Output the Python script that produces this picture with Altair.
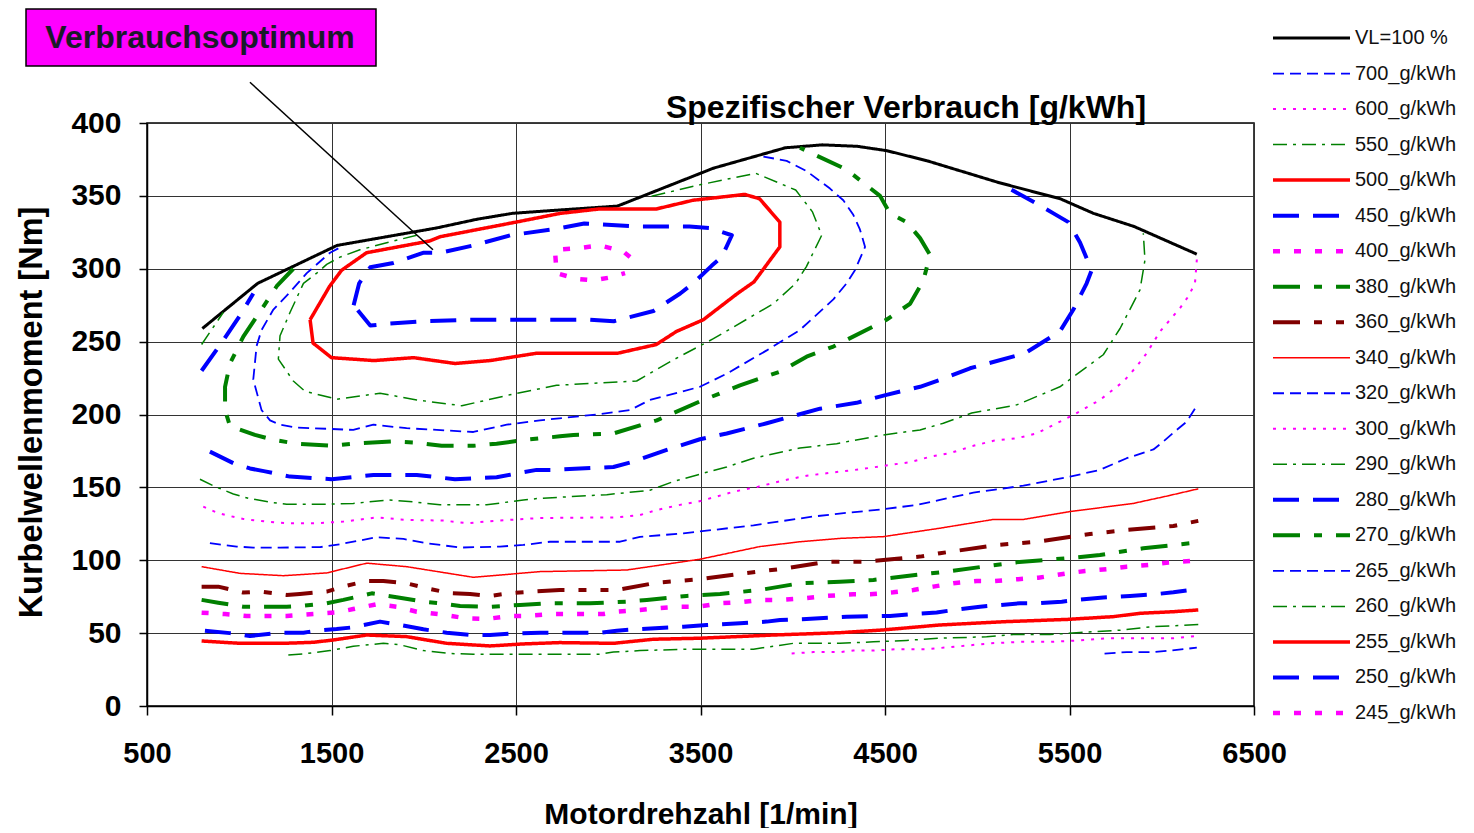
import altair as alt
import pandas as pd

# ---------------- data (rpm, Nm) ----------------
RPM_TICKS = [500, 1500, 2500, 3500, 4500, 5500, 6500]
NM_TICKS = [0, 50, 100, 150, 200, 250, 300, 350, 400]

vl_100 = [(800, 259), (1100, 290), (1530, 316), (2070, 328), (2290, 334), (2480, 338), (2700, 340),
          (3050, 343), (3570, 369), (3960, 383), (4160, 385), (4350, 384), (4510, 381), (4730, 374),
          (5120, 359), (5450, 348), (5630, 338), (5850, 329), (6190, 310)]

c700 = [(5690, 36), (5810, 37), (5955, 37), (6045, 38), (6190, 40)]

c600 = [(3994, 36), (4112, 37), (4256, 37), (4328, 38), (4437, 38), (4563, 39), (4726, 39), (4907, 41),
        (5069, 43), (5232, 44), (5394, 44), (5557, 45), (5701, 46.5), (5882, 46.5), (6063, 46.5), (6190, 48)]

c550 = [(1266, 35), (1366, 36), (1492, 38), (1618, 41), (1781, 43), (1871, 42), (1998, 38), (2142, 36),
        (2269, 35.5), (2450, 35.5), (2955, 35.5), (3028, 37), (3172, 38), (3443, 39), (3787, 39), (3895, 41),
        (4003, 43), (4256, 43), (4437, 44), (4617, 45), (4798, 46.5), (5051, 47.5), (5196, 49), (5394, 49),
        (5557, 50.5), (5774, 52), (5955, 54.5), (6063, 55), (6198, 56)]

c500 = [(796, 44.6), (1004, 43), (1239, 43), (1401, 43.7), (1510, 45.3), (1691, 48.7), (1907, 47.6),
        (2124, 43), (2359, 41.2), (2540, 42.6), (2738, 43.5), (3028, 43), (3244, 45.8), (3497, 46.5),
        (3895, 48.7), (4256, 50.3), (4491, 52.2), (4798, 55.6), (5159, 57.9), (5485, 59.4), (5737, 61.3),
        (5882, 63.6), (6063, 64.7), (6198, 65.9)]

c450 = [(814, 51.7), (950, 50), (1058, 48), (1221, 50.3), (1348, 50.3), (1420, 51.7), (1528, 52.8),
        (1618, 54), (1763, 57.9), (1871, 55.6), (1998, 52.6), (2124, 50.3), (2251, 48.7), (2359, 48.7),
        (2486, 49.8), (2630, 50.3), (2955, 50.3), (3046, 51.7), (3172, 52.8), (3407, 54.4), (3533, 55.6),
        (3714, 56.7), (3859, 57.9), (3931, 59), (4075, 59.7), (4292, 61.3), (4527, 61.8), (4654, 63.1),
        (4780, 64.2), (4880, 66), (5015, 68.1), (5232, 70.5), (5322, 70.5), (5458, 71.6), (5539, 72.8),
        (5683, 74.4), (5828, 75.5), (5964, 76.7), (6063, 78), (6198, 80.3)]

c400 = [(796, 64), (923, 63.1), (1040, 61.8), (1257, 61.8), (1401, 63.1), (1528, 64.2), (1618, 66.5),
        (1745, 69.8), (1853, 68.1), (1962, 64.7), (2088, 62.9), (2233, 60.1), (2341, 59.7), (2467, 61.8),
        (2558, 61.8), (2700, 63.1), (2973, 63.1), (3046, 64.7), (3172, 65.9), (3263, 67), (3389, 68.1),
        (3488, 68.1), (3606, 70.5), (3714, 71.2), (3822, 72.8), (3931, 72.8), (4057, 73.9), (4183, 75.5),
        (4328, 76.7), (4419, 76.7), (4545, 78), (4654, 79.6), (4762, 81.9), (4870, 84.2), (4997, 85.8),
        (5096, 85.8), (5222, 87), (5331, 88), (5485, 91), (5584, 92.6), (5710, 94), (5810, 95.6),
        (5927, 96.8), (6036, 98.4), (6171, 99.7)]

c380 = [(796, 72.8), (886, 70.9), (1022, 68.1), (1257, 68.1), (1329, 68.6), (1474, 70.5), (1564, 72.8),
        (1718, 77.3), (1853, 74.6), (1998, 71.6), (2088, 70.5), (2197, 68.6), (2359, 68.1), (2522, 69.3),
        (2666, 70.5), (2901, 70.5), (3100, 71.6), (3209, 72.8), (3425, 75.5), (3606, 76.9), (3822, 79.6),
        (4039, 84.2), (4256, 85.3), (4437, 86.5), (4744, 91), (4834, 92.2), (5196, 98.4), (5521, 101.8),
        (5665, 103.6), (5900, 108.2), (6198, 112.3)]

c360 = [(796, 81.9), (886, 81.9), (1022, 77.8), (1112, 78.5), (1257, 76.2), (1329, 76.9), (1474, 78.5),
        (1564, 82), (1691, 85.8), (1781, 85.8), (1907, 84.2), (2016, 80.8), (2142, 77.4), (2251, 76.9),
        (2359, 75.5), (2467, 77.4), (2594, 78.5), (2738, 79.6), (3046, 79.6), (3263, 84.6), (3497, 87),
        (3732, 91), (3967, 94.5), (4183, 99), (4400, 99), (4690, 102.5), (4798, 104.8), (5105, 110.5),
        (5322, 112.7), (5611, 118), (5810, 120.8), (6063, 123.5), (6198, 127)]

c340 = [(796, 95.6), (1004, 91), (1239, 89.4), (1474, 91.3), (1691, 98), (1907, 95.6), (2269, 88.3),
        (2630, 92.2), (3100, 93.3), (3497, 100.7), (3822, 109.4), (4039, 112.7), (4256, 115), (4491, 116.2),
        (4798, 122), (5088, 128), (5250, 128), (5503, 133.4), (5846, 139), (6027, 144), (6198, 149)]

c320 = [(841, 111.7), (986, 109.4), (1076, 108.7), (1221, 108.7), (1438, 109), (1546, 111), (1745, 115.8),
        (1890, 114.6), (2016, 111.7), (2197, 108.7), (2413, 109.4), (2540, 110.5), (2684, 112.7),
        (3064, 112.7), (3172, 116), (3407, 118.5), (3570, 120.8), (3787, 124), (3949, 127), (4112, 130),
        (4253, 132), (4491, 135), (4672, 138), (4798, 141.4), (4979, 146.4), (5088, 148.3), (5250, 151.2),
        (5503, 157.4), (5665, 162), (5810, 170), (5955, 176), (6009, 181.5), (6081, 189.4), (6135, 195),
        (6190, 206)]

c300 = [(805, 136.8), (878, 132.7), (941, 130.6), (1022, 128.3), (1149, 126.5), (1257, 125.4), (1420, 125.4),
        (1564, 126.5), (1745, 129.4), (1907, 127.7), (2106, 127.2), (2241, 125.4), (2377, 127), (2630, 129),
        (3046, 129.4), (3172, 131), (3263, 134.5), (3389, 138), (3479, 140), (3588, 143.7), (3678, 147),
        (3813, 150.5), (3958, 155), (4075, 158), (4183, 159.7), (4364, 162.4), (4527, 165.4), (4636, 167.3),
        (4744, 171), (4852, 173.5), (4979, 178.5), (5088, 182), (5214, 183.7), (5322, 187), (5521, 199.7),
        (5665, 210), (5792, 222.6), (5864, 233), (5918, 242), (5991, 257), (6045, 265), (6099, 273),
        (6144, 281), (6180, 290), (6190, 306), (6190, 310)]

c290_main = [(787, 155.6), (860, 151), (968, 145.5), (1049, 142.5), (1185, 139.5), (1257, 138.4),
             (1474, 138.4), (1618, 139), (1809, 141.4), (1944, 140), (2088, 138), (2341, 138), (2540, 141.4),
             (2630, 142.5), (2992, 145), (3226, 148), (3353, 154), (3515, 159.7), (3642, 164), (3787, 170),
             (4039, 177), (4238, 180), (4491, 186), (4690, 189.4), (4816, 194), (4970, 201), (5214, 206.6),
             (5448, 219), (5683, 241), (5774, 259), (5882, 285.5), (5909, 306), (5900, 324.4)]
c290_left = [(796, 248), (913, 270)]

c280_main = [(841, 174.5), (968, 166.6), (1058, 163), (1140, 161), (1275, 157.4), (1501, 155.6),
             (1727, 158.5), (1962, 158.5), (2169, 155.6), (2395, 157), (2612, 162), (2703, 162), (3028, 164),
             (3136, 167.7), (3317, 175.7), (3497, 183), (3642, 187), (3859, 194), (4148, 204), (4346, 208),
             (4508, 213.5), (4690, 219), (4798, 223.7), (4961, 231.7), (5259, 242), (5448, 257), (5521, 272),
             (5593, 290), (5620, 299), (5557, 318), (5494, 332), (5413, 338), (5304, 346), (5130, 358)]
c280_left = [(796, 230), (914, 251), (1004, 268), (1076, 283)]

c270 = [(1293, 300), (1203, 288), (1167, 281), (1094, 267), (1022, 253.5), (950, 235), (923, 219), (923, 203),
        (950, 192), (1085, 186), (1185, 182.6), (1311, 180), (1501, 178.5), (1618, 180), (1835, 181.5),
        (1962, 180.7), (2097, 178.5), (2269, 178.5), (2395, 180), (2576, 183), (2738, 185), (2811, 186),
        (3028, 187), (3263, 196), (3497, 209), (3714, 220), (3931, 229.4), (4075, 239.7), (4220, 246.6),
        (4508, 265), (4636, 276), (4708, 292), (4744, 309.5), (4690, 321), (4617, 332), (4527, 338),
        (4473, 350), (4292, 368), (4039, 383)]

c265 = [(1537, 314), (1492, 311), (1366, 297), (1275, 284), (1185, 272), (1121, 258), (1094, 247), (1076, 224),
        (1121, 203), (1167, 196), (1221, 193), (1311, 191), (1402, 190.6), (1618, 189.4), (1727, 193),
        (1907, 190.6), (2269, 188), (2450, 193), (2630, 196), (2937, 200), (3118, 203), (3226, 210), (3497, 219),
        (3642, 228), (3859, 244), (4039, 258), (4220, 279), (4292, 290), (4337, 299), (4392, 315), (4364, 327),
        (4328, 337), (4274, 347), (4202, 355), (4075, 367), (3967, 374), (3841, 377)]

c260 = [(1962, 323), (1835, 319), (1654, 313), (1546, 308), (1474, 303), (1420, 297), (1348, 290), (1275, 270),
        (1221, 254), (1212, 238), (1293, 223), (1356, 216), (1528, 210.5), (1763, 214.6), (1962, 210),
        (2206, 206), (2467, 213.5), (2720, 220), (3154, 223), (3353, 237.5), (3570, 252), (3895, 276),
        (4016, 290), (4074, 301.5), (4157, 323), (4107, 339), (4016, 354), (3799, 365.5), (3497, 357.6),
        (3209, 349)]

c255 = [(1384, 265), (1400, 249), (1500, 239), (1730, 237), (1945, 239), (2170, 235), (2360, 237), (2610, 242),
        (3050, 242), (3260, 248), (3370, 257), (3515, 265), (3700, 283), (3790, 291), (3930, 315), (3930, 332),
        (3820, 348), (3740, 351), (3460, 347), (3260, 341), (2950, 341), (2740, 338), (2500, 332), (2090, 322),
        (2030, 319), (1690, 311), (1555, 299), (1490, 288), (1384, 265)]

c250 = [(1620, 275), (1650, 290), (1710, 301), (1835, 304), (2000, 311), (2090, 311), (2270, 316), (2470, 323),
        (2700, 327), (2870, 331), (3170, 329), (3440, 329), (3550, 328), (3670, 323), (3615, 308), (3560, 302),
        (3460, 290), (3390, 283), (3245, 271), (3030, 264), (2900, 265), (2700, 265), (2270, 265), (2000, 264),
        (1780, 262), (1710, 261), (1620, 275)]

c245 = [(3118, 308), (3080, 312), (2955, 316), (2830, 314), (2711, 313), (2720, 297), (2830, 293), (2920, 292),
        (3010, 294), (3091, 297)]

SERIES = [
    ("VL=100 %", [vl_100]),
    ("700_g/kWh", [c700]),
    ("600_g/kWh", [c600]),
    ("550_g/kWh", [c550]),
    ("500_g/kWh", [c500]),
    ("450_g/kWh", [c450]),
    ("400_g/kWh", [c400]),
    ("380_g/kWh", [c380]),
    ("360_g/kWh", [c360]),
    ("340_g/kWh", [c340]),
    ("320_g/kWh", [c320]),
    ("300_g/kWh", [c300]),
    ("290_g/kWh", [c290_main, c290_left]),
    ("280_g/kWh", [c280_main, c280_left]),
    ("270_g/kWh", [c270]),
    ("265_g/kWh", [c265]),
    ("260_g/kWh", [c260]),
    ("255_g/kWh", [c255]),
    ("250_g/kWh", [c250]),
    ("245_g/kWh", [c245]),
]

BLUE, MAG, GREEN, RED, MAROON = "#0000FF", "#FF00FF", "#008000", "#FF0000", "#800000"
COLORS = ["#000000", BLUE, MAG, GREEN, RED, BLUE, MAG, GREEN, MAROON, RED,
          BLUE, MAG, GREEN, BLUE, GREEN, BLUE, GREEN, RED, BLUE, MAG]
SOLID, THIN_DASH, DOT = [1, 0], [11, 6], [3, 7]
DASH_DOT, LONG_DASH, SQ_DOT = [14, 6, 3, 6], [26, 14], [7, 14]
LONG_DASH_DOT, LONG_DASH_DOT_DOT = [27, 14, 8, 14], [27, 14, 8, 14, 8, 14]
DASHES = [SOLID, THIN_DASH, DOT, DASH_DOT, SOLID, LONG_DASH, SQ_DOT, LONG_DASH_DOT, LONG_DASH_DOT_DOT, SOLID,
          THIN_DASH, DOT, DASH_DOT, LONG_DASH, LONG_DASH_DOT, THIN_DASH, DASH_DOT, SOLID, LONG_DASH, SQ_DOT]
WIDTHS = [3, 1.8, 2, 1.5, 3.5, 4, 4.5, 4, 4, 1.5, 1.8, 2, 1.5, 4, 4, 1.8, 1.5, 3.5, 4, 4.5]

NAMES = [n for n, _ in SERIES]

rows = []
for k, (name, segs) in enumerate(SERIES):
    for s, seg in enumerate(segs):
        for i, (x, y) in enumerate(seg):
            rows.append({"series": name, "seg": f"{k}-{s}", "i": i, "rpm": x, "nm": y, "w": WIDTHS[k]})
df = pd.DataFrame(rows)

legend_df = pd.DataFrame({"series": NAMES, "row": list(range(len(NAMES))), "w": WIDTHS})

FONT = "Liberation Sans"

color_enc = alt.Color("series:N", scale=alt.Scale(domain=NAMES, range=COLORS), legend=None)
dash_enc = alt.StrokeDash("series:N", scale=alt.Scale(domain=NAMES, range=DASHES), legend=None)
width_enc = alt.StrokeWidth("w:Q", scale=None)

x_enc = alt.X("rpm:Q", scale=alt.Scale(domain=[500, 6500], nice=False, zero=False),
              axis=alt.Axis(values=RPM_TICKS, format="d", title="Motordrehzahl [1/min]", titleY=117,
                            titleBaseline="alphabetic", labelPadding=24, tickSize=9))
y_scale = alt.Scale(domain=[0, 400], nice=False)
y_enc = alt.Y("nm:Q", scale=y_scale,
              axis=alt.Axis(values=NM_TICKS, title="Kurbelwellenmoment [Nm]", titleX=-116, titleY=289,
                            titleAngle=270, titleBaseline="middle", titleFontSize=32.5,
                            labelPadding=18, tickSize=8, labelFontSize=30))

lines = alt.Chart(df).mark_line(strokeCap="butt", strokeJoin="round").encode(
    x=x_enc, y=y_enc, color=color_enc, strokeDash=dash_enc, strokeWidth=width_enc,
    detail="seg:N", order="i:Q",
)

leader_df = pd.DataFrame({"rpm": [1058], "nm": [428], "rpm2": [2050], "nm2": [313]})
leader = alt.Chart(leader_df).mark_rule(color="black", strokeWidth=1.5).encode(
    x="rpm:Q", y=alt.Y("nm:Q", scale=y_scale, axis=None), x2="rpm2:Q", y2="nm2:Q")

# legend, drawn as marks at the right of the plot
row_y = alt.Y("row:Q", scale=alt.Scale(domain=[0, 19], range=[-85, 590]), axis=None)
legend_lines = alt.Chart(legend_df).mark_rule(strokeCap="butt").encode(
    x=alt.value(1126), x2=alt.value(1203), y=row_y,
    color=color_enc, strokeDash=dash_enc, strokeWidth=width_enc,
)
legend_text = alt.Chart(legend_df).mark_text(align="left", baseline="middle", font=FONT, fontSize=20,
                                             color="#111111").encode(
    x=alt.value(1208), y=row_y, text="series:N")

one = pd.DataFrame({"a": [0]})
box = alt.Chart(one).mark_rect(fill="#FF00FF", stroke="black", strokeWidth=1.5).encode(
    x=alt.value(-121), x2=alt.value(229), y=alt.value(-114), y2=alt.value(-57))
box_text = alt.Chart(one).mark_text(text="Verbrauchsoptimum", font=FONT, fontSize=32, fontWeight="bold",
                                    color="#1a1a2a", align="center", baseline="alphabetic").encode(
    x=alt.value(53), y=alt.value(-75))
title_text = alt.Chart(one).mark_text(text="Spezifischer Verbrauch [g/kWh]", font=FONT, fontSize=32,
                                      fontWeight="bold", color="black", align="center",
                                      baseline="alphabetic").encode(x=alt.value(759), y=alt.value(-5))

chart = alt.layer(lines, leader, legend_lines, legend_text, box, box_text, title_text).resolve_scale(
    y="independent"
).properties(
    width=1107, height=583,
    autosize=alt.AutoSizeParams(type="none"),
    padding={"left": 139, "top": 115, "right": 205, "bottom": 122},
).configure(font=FONT).configure_view(
    stroke="black", strokeWidth=1.5
).configure_axis(
    labelFont=FONT, labelFontSize=29, labelFontWeight="bold", labelColor="black",
    labelFlush=False, labelOverlap=False,
    titleFont=FONT, titleFontSize=30, titleFontWeight="bold", titleColor="black",
    domainColor="black", domainWidth=1.5, tickColor="black", tickWidth=1.5,
    gridColor="#333333", gridWidth=1, gridOpacity=1,
)

chart.save("out.html", embed_options={"renderer": "svg", "actions": False})
